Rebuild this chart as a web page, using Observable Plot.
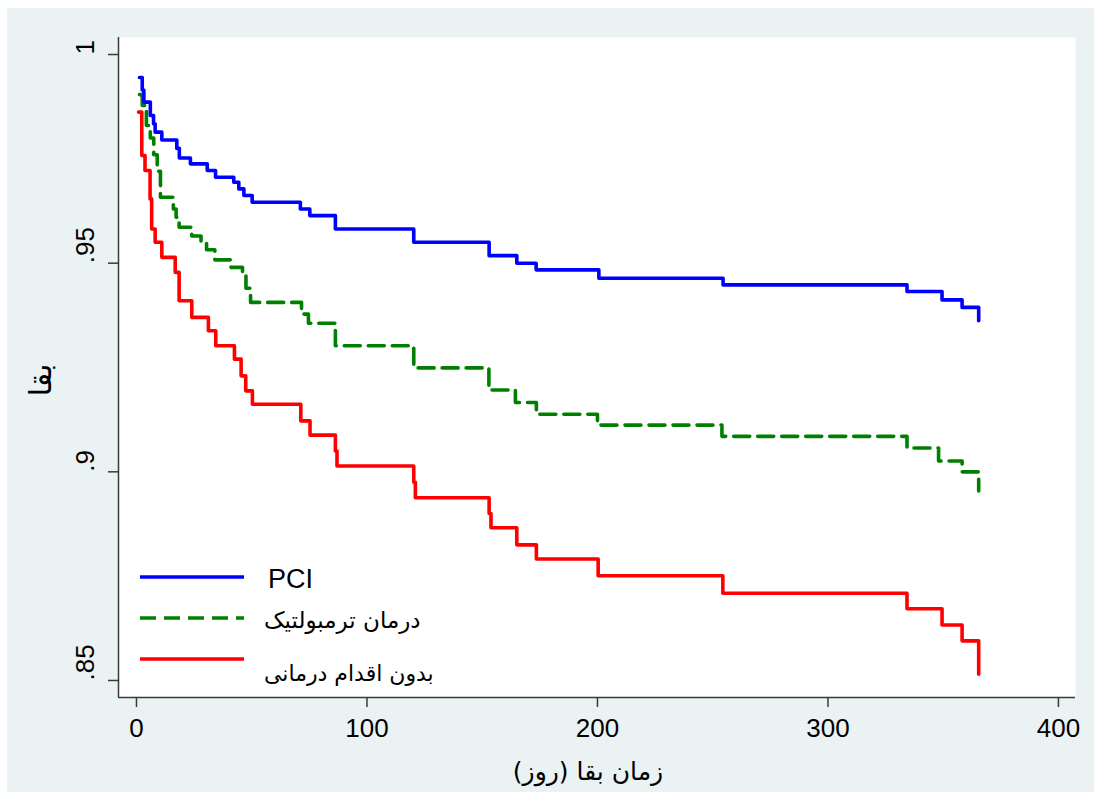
<!DOCTYPE html>
<html>
<head>
<meta charset="utf-8">
<script src="https://cdn.jsdelivr.net/npm/d3@7"></script>
<script src="https://cdn.jsdelivr.net/npm/@observablehq/plot@0.6"></script>
<style>
  html, body { margin: 0; padding: 0; background: #ffffff; }
  body { width: 1094px; height: 792px; position: relative; overflow: hidden; font-family: Arial, "Liberation Sans", "DejaVu Sans", sans-serif; }
  #chart { position: absolute; left: 7px; top: 8px; }
  .rtl { position: absolute; direction: rtl; unicode-bidi: embed; white-space: nowrap; color: #000; font-family: "DejaVu Sans", Arial, sans-serif; }
</style>
</head>
<body>
<div id="chart"></div>
<script>
// ---- data ----
const seriesNames = ["PCI", "درمان ترمبولتیک", "بدون اقدام درمانی"];
const seriesColors = ["#0000ff", "#008000", "#ff0000"];

const pciTime = [1.3, 2.5, 3.2, 6.0, 7.4, 8.1, 11.0, 17.5, 18.6, 23.4, 30.7, 34.3, 42.2, 44.4, 46.6, 50.2, 71.1, 75.2, 86.3, 120.3, 153.0, 165.0, 173.4, 200.6, 254.5, 334.3, 349.5, 358.2, 365.4];
const pciSurv = [0.9945, 0.9915, 0.9886, 0.9854, 0.9834, 0.9814, 0.9795, 0.9775, 0.9752, 0.9738, 0.9722, 0.9706, 0.9694, 0.9678, 0.9662, 0.9646, 0.9630, 0.9614, 0.9582, 0.9550, 0.9518, 0.9500, 0.9484, 0.9464, 0.9448, 0.9432, 0.9412, 0.9394, 0.9362];

const thrTime = [1.3, 2.5, 4.3, 6.0, 7.5, 9.0, 10.4, 16.0, 17.2, 18.5, 24.0, 28.0, 30.4, 34.0, 41.0, 46.0, 47.5, 49.5, 71.6, 74.6, 86.3, 120.3, 152.9, 164.4, 173.5, 200.0, 254.0, 334.3, 348.0, 358.2, 365.4];
const thrSurv = [0.9904, 0.9878, 0.9830, 0.9800, 0.9760, 0.9720, 0.9658, 0.9630, 0.9610, 0.9586, 0.9565, 0.9550, 0.9532, 0.9508, 0.9490, 0.9470, 0.9440, 0.9406, 0.9378, 0.9356, 0.9302, 0.9249, 0.9196, 0.9166, 0.9138, 0.9112, 0.9085, 0.9057, 0.9026, 0.9000, 0.8954];

const noneTime = [0.9, 2.3, 3.7, 5.9, 6.6, 8.1, 11.0, 16.8, 18.5, 24.0, 31.2, 34.4, 42.5, 45.4, 47.4, 50.3, 71.3, 75.3, 86.3, 87.0, 120.3, 121.0, 153.0, 153.8, 165.0, 173.5, 200.3, 254.4, 334.3, 349.5, 358.2, 365.4];
const noneSurv = [0.9862, 0.9758, 0.9722, 0.9654, 0.9582, 0.9550, 0.9514, 0.9478, 0.9410, 0.9370, 0.9338, 0.9302, 0.9270, 0.9230, 0.9194, 0.9162, 0.9122, 0.9088, 0.9050, 0.9014, 0.8975, 0.8938, 0.8900, 0.8866, 0.8825, 0.8791, 0.8751, 0.8709, 0.8672, 0.8633, 0.8595, 0.8515];

const xTicks = [0, 100, 200, 300, 400];
const yTicks = [0.85, 0.9, 0.95, 1];
const yTickLabels = [".85", ".9", ".95", "1"];
const xDomain = [-7.8, 407.4];
const yDomain = [0.84592, 1.00408];
const xTitle = "زمان بقا (روز)";
const yTitle = "بقا";

// ---- build ----
const toRows = (ts, ss) => ts.map((t, i) => ({t, s: ss[i]}));
const pci = toRows(pciTime, pciSurv);
const thr = toRows(thrTime, thrSurv);
const none = toRows(noneTime, noneSurv);

const axisColor = "#3a3a3a";
const lw = 3.6;

const chart = Plot.plot({
  width: 1087,
  height: 784,
  marginLeft: 111,
  marginTop: 29,
  marginRight: 19,
  marginBottom: 95,
  style: {background: "#eaf2f3", fontFamily: "Arial, 'Liberation Sans', sans-serif", fontSize: "26px", color: "#000", overflow: "visible"},
  x: {domain: xDomain},
  y: {domain: yDomain},
  marks: [
    Plot.frame({fill: "white", stroke: null}),
    Plot.axisX({ticks: xTicks, tickSize: 10, tickPadding: 11, fontSize: 26, label: null, stroke: axisColor, strokeWidth: 1.5, fill: "#000"}),
    Plot.axisY({ticks: yTicks, tickSize: 10, tickFormat: () => "", label: null, stroke: axisColor, strokeWidth: 1.5}),
    Plot.text(yTicks, {y: d => d, text: (d, i) => yTickLabels[i], frameAnchor: "left", dx: -33, rotate: -90, fontSize: 26, fill: "#000"}),
    Plot.ruleX([xDomain[0]], {stroke: axisColor, strokeWidth: 1.5}),
    Plot.ruleY([yDomain[0]], {stroke: axisColor, strokeWidth: 1.5}),
    Plot.line(none, {x: "t", y: "s", curve: "step-after", stroke: seriesColors[2], strokeWidth: lw}),
    Plot.line(thr, {x: "t", y: "s", curve: "step-after", stroke: seriesColors[1], strokeWidth: lw, strokeDasharray: "16,8"}),
    Plot.line(pci, {x: "t", y: "s", curve: "step-after", stroke: seriesColors[0], strokeWidth: lw})
  ]
});
document.getElementById("chart").appendChild(chart);

// ---- titles ----
const yt = document.createElement("div");
yt.className = "rtl";
yt.textContent = yTitle;
yt.style.fontSize = "30px";
yt.style.left = "40px";
yt.style.top = "380px";
yt.style.transform = "translate(-50%, -50%) rotate(-90deg)";
document.body.appendChild(yt);

const xt = document.createElement("div");
xt.className = "rtl";
xt.textContent = xTitle;
xt.style.fontSize = "25px";
xt.style.left = "588px";
xt.style.top = "771px";
xt.style.transform = "translate(-50%, -50%)";
document.body.appendChild(xt);

// ---- legend ----
const legendLineY = [577, 618, 659];
const legendTextY = [579, 620, 673];
const legendFont = [27, 23, 22];
const dashes = [null, "16,8", null];
seriesNames.forEach((name, i) => {
  const svgNS = "http://www.w3.org/2000/svg";
  const s = document.createElementNS(svgNS, "svg");
  s.setAttribute("width", 104);
  s.setAttribute("height", 8);
  s.style.position = "absolute";
  s.style.left = "140px";
  s.style.top = (legendLineY[i] - 4) + "px";
  const l = document.createElementNS(svgNS, "line");
  l.setAttribute("x1", 0); l.setAttribute("x2", 104);
  l.setAttribute("y1", 4); l.setAttribute("y2", 4);
  l.setAttribute("stroke", seriesColors[i]);
  l.setAttribute("stroke-width", lw);
  if (dashes[i]) l.setAttribute("stroke-dasharray", dashes[i]);
  s.appendChild(l);
  document.body.appendChild(s);

  const t = document.createElement("div");
  t.className = "rtl";
  t.textContent = name;
  if (i === 0) {
    t.style.direction = "ltr";
    t.style.fontFamily = "Arial, 'Liberation Sans', sans-serif";
    t.style.left = "268px";
  } else {
    t.style.left = "264px";
  }
  t.style.fontSize = legendFont[i] + "px";
  t.style.top = legendTextY[i] + "px";
  t.style.transform = "translateY(-50%)";
  document.body.appendChild(t);
});
</script>
</body>
</html>
